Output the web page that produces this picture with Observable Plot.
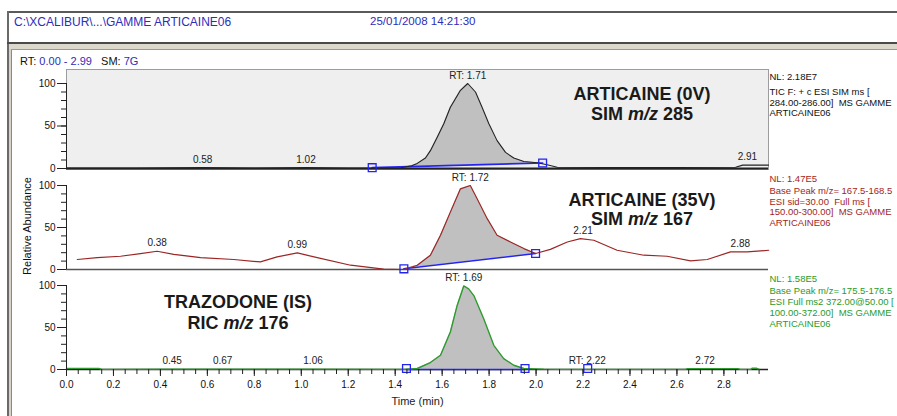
<!DOCTYPE html>
<html>
<head>
<meta charset="utf-8">
<script src="https://cdn.jsdelivr.net/npm/d3@7"></script>
<script src="https://cdn.jsdelivr.net/npm/@observablehq/plot@0.6"></script>
<style>
  html, body { margin: 0; padding: 0; background: #fff; width: 897px; height: 416px; overflow: hidden; }
  body { font-family: "Liberation Sans", Arial, sans-serif; color: #111; }
  #page { position: relative; width: 897px; height: 416px; overflow: hidden; }
  .abs { position: absolute; }
  .txt { position: absolute; line-height: 1; white-space: nowrap; }
  .blue { color: #2d2db8; }
  .big { position: absolute; line-height: 1; white-space: nowrap; font-size: 18px; font-weight: bold; color: #1a1a1a; transform: translateX(-50%); }
  .panel { position: absolute; left: 0; }
</style>
</head>
<body>
<div id="page">
  <!-- window chrome -->
  <div class="abs" style="left:7px;top:11px;right:0;height:2px;background:#5a5a5a"></div>
  <div class="abs" style="left:7px;top:11px;bottom:0;width:2px;background:#6a6a6a"></div>
  <div class="abs" style="left:9px;top:44px;bottom:0;width:2px;background:#d6d2c8"></div>
  <div class="abs" style="left:11px;top:44px;bottom:0;width:1px;background:#8a8a8a"></div>
  <div class="abs" style="left:7px;top:42px;right:0;height:2px;background:#4a4a4a"></div>
  <div class="abs" style="left:9px;top:44px;right:0;height:5px;background:#dcd8cc"></div>
  <div class="abs" style="left:11px;top:49px;right:0;height:1px;background:#9a9a9a"></div>

  <div class="txt blue" id="hdrFile" style="left:14px;top:16.1px;font-size:12px"></div>
  <div class="txt blue" id="hdrDate" style="left:370px;top:16.4px;font-size:11.5px"></div>
  <div class="txt" id="rtLine" style="left:20px;top:55.6px;font-size:11px"></div>

  <div class="txt" id="yLab" style="left:27px;top:226px;font-size:11px;transform:translate(-50%,-50%) rotate(-90deg)"></div>

  <div class="panel" id="p1" style="top:60px"></div>
  <div class="panel" id="p2" style="top:160px"></div>
  <div class="panel" id="p3" style="top:262px"></div>

  <div class="big" id="t1a" style="left:642px;top:84.5px"></div>
  <div class="big" id="t1b" style="left:642px;top:104.5px"></div>
  <div class="big" id="t2a" style="left:642px;top:191.2px"></div>
  <div class="big" id="t2b" style="left:642px;top:209.5px"></div>
  <div class="big" id="t3a" style="left:238px;top:292.9px"></div>
  <div class="big" id="t3b" style="left:238px;top:313.9px"></div>
</div>
<script>
// ---------------- texts ----------------
const headerFile = "C:\\XCALIBUR\\...\\GAMME ARTICAINE06";
const headerDate = "25/01/2008 14:21:30";
const rtRange = "0.00 - 2.99";
const smValue = "7G";
const xLabel = "Time (min)";
const yLabel = "Relative Abundance";

// ---------------- axes ----------------
const X_DOMAIN = [0, 2.99];
const xTicks = [0, 0.2, 0.4, 0.6, 0.8, 1.0, 1.2, 1.4, 1.6, 1.8, 2.0, 2.2, 2.4, 2.6, 2.8];
const xTickLabels = ["0.0","0.2","0.4","0.6","0.8","1.0","1.2","1.4","1.6","1.8","2.0","2.2","2.4","2.6","2.8"];
const yTicks = [0, 50, 100];
const yTickLabels = ["0", "50", "100"];

// ---------------- panel 1 : ARTICAINE (0V) SIM m/z 285 ----------------
const title285 = ["ARTICAINE (0V)", "SIM", "285"];
const nl285 = "NL: 2.18E7";
const desc285 = ["TIC F: + c ESI SIM ms [", "284.00-286.00]  MS GAMME", "ARTICAINE06"];
const sim285 = [[0,0.5],[0.3,0.6],[0.58,1.2],[0.8,0.6],[1.02,1.2],[1.2,0.6],[1.30,0.5],[1.42,0.5],
  [1.47,3.2],[1.494,6],[1.529,12.3],[1.55,21],[1.579,36.7],[1.607,52.6],[1.635,72],[1.678,92],
  [1.709,100],[1.742,90],[1.77,72],[1.799,52.6],[1.834,32.8],[1.87,19],[1.905,12.3],[1.948,8.3],
  [2.005,6.8],[2.047,4.4],[2.09,1.5],[2.3,1.2],[2.6,1.2],[2.85,1.5],[2.88,4],[2.99,4]];
const base285 = [[1.302,1.0],[2.028,6.5]];
const markers285 = [[1.302,1.0],[2.028,6.5]];
const peaks285 = [[0.58,1.2,"0.58"],[1.02,1.2,"1.02"],[1.709,100,"RT: 1.71"],[2.90,4,"2.91"]];

// ---------------- panel 2 : ARTICAINE (35V) SIM m/z 167 ----------------
const title167 = ["ARTICAINE (35V)", "SIM", "167"];
const nl167 = "NL: 1.47E5";
const desc167 = ["Base Peak m/z= 167.5-168.5", "ESI sid=30.00  Full ms [", "150.00-300.00]  MS GAMME", "ARTICAINE06"];
const sim167 = [[0.046,11.9],[0.131,14.2],[0.23,15.8],[0.315,19],[0.386,21.7],[0.457,18.1],[0.571,14.2],
  [0.713,11.9],[0.826,9.0],[0.897,15],[0.983,19.7],[1.068,14.2],[1.21,5.1],[1.351,0.4],[1.437,0],
  [1.494,5.1],[1.55,17],[1.593,40.7],[1.635,68.3],[1.678,96],[1.72,100],[1.749,84.2],[1.792,60.5],
  [1.834,40.7],[1.891,32.7],[1.948,24.9],[1.998,19],[2.061,24],[2.133,32.7],[2.189,36.8],[2.246,34.8],
  [2.345,22.9],[2.459,17],[2.558,15.8],[2.658,10.2],[2.729,11.9],[2.828,20.9],[2.899,20.9],[2.991,22.9]];
const base167 = [[1.437,0.8],[1.998,19]];
const markers167 = [[1.437,0.8],[1.998,19]];
const peaks167 = [[0.386,21.7,"0.38"],[0.983,19.7,"0.99"],[1.72,100,"RT: 1.72"],[2.2,36.8,"2.21"],[2.87,20.9,"2.88"]];

// ---------------- panel 3 : TRAZODONE (IS) RIC m/z 176 ----------------
const title176 = ["TRAZODONE (IS)", "RIC", "176"];
const nl176 = "NL: 1.58E5";
const desc176 = ["Base Peak m/z= 175.5-176.5", "ESI Full ms2 372.00@50.00 [", "100.00-372.00]  MS GAMME", "ARTICAINE06"];
const ric176 = [[0,1.3],[0.138,1.3],[0.15,0.2],[0.45,0.5],[0.67,0.5],[1.06,0.5],[1.437,0.2],[1.494,1.2],
  [1.55,8.3],[1.593,17],[1.635,44.6],[1.664,76.3],[1.692,99.5],[1.713,96],[1.735,88],[1.777,60.5],
  [1.82,28.8],[1.862,13],[1.905,5.1],[1.948,1.2],[2.033,0.4],[2.1,0.2],[2.636,0.2],[2.645,1.0],
  [2.86,1.0],[2.87,0.2],[2.915,0.2],[2.92,1.4],[2.94,1.4],[2.95,0.2]];
const base176 = [[1.448,0],[1.953,0]];
const markers176 = [[1.448,1.2],[1.953,1.2],[2.22,1.2]];
const peaks176 = [[0.45,0.5,"0.45"],[0.665,0.5,"0.67"],[1.05,0.5,"1.06"],[1.692,99.5,"RT: 1.69"],[2.218,0.5,"RT: 2.22"],[2.72,1,"2.72"]];

// ---------------- drawing ----------------
const FONT = '"Liberation Sans", Arial, sans-serif';
const BLUE = "#2424f0";
const FILL = "#c0c0c0";
const xMinor = d3.range(0, 60).map(i => +(i * 0.05).toFixed(2)).filter(v => v <= 2.96);
const yMinor = d3.range(0, 101, 10);

function chromPanel(o) {
  const pts = o.series.map(([t, v]) => ({t, v}));
  const [b0, b1] = o.baseline.map(([t, v]) => ({t, v}));
  const base = t => b0.v + (t - b0.t) * (b1.v - b0.v) / (b1.t - b0.t);
  const fillPts = [{t: b0.t, lo: b0.v, hi: b0.v},
    ...pts.filter(d => d.t > b0.t && d.t < b1.t).map(d => ({t: d.t, lo: base(d.t), hi: Math.max(d.v, base(d.t))})),
    {t: b1.t, lo: b1.v, hi: b1.v}];
  const marks = [];
  if (o.boxed) marks.push(Plot.frame({fill: "#efefef", stroke: "#9c9c9c", insetTop: -14, insetBottom: -1}));
  marks.push(Plot.ruleY([0], {stroke: o.baseColor, strokeWidth: o.baseWidth}));
  marks.push(Plot.areaY(fillPts, {x: "t", y1: "lo", y2: "hi", fill: FILL}));
  marks.push(Plot.line(o.baseline, {x: d => d[0], y: d => d[1], stroke: BLUE, strokeWidth: 1.6}));
  marks.push(Plot.line(pts, {x: "t", y: "v", stroke: o.color, strokeWidth: o.lineWidth}));
  marks.push(Plot.dot(o.markers, {x: d => d[0], y: d => d[1], symbol: "square", r: 4.4, stroke: BLUE, strokeWidth: 1.3, fill: "none"}));
  marks.push(Plot.text(o.peaks, {x: d => d[0], y: d => d[1], text: d => d[2], dy: -8, fontSize: 10, fill: "#222"}));
  marks.push(Plot.ruleX([0], {y1: yTicks[0], y2: yTicks[yTicks.length - 1], stroke: "#222"}));
  marks.push(Plot.axisY(yMinor, {tickSize: 5, tickFormat: () => "", label: null, stroke: "#222"}));
  marks.push(Plot.axisY(yTicks, {tickSize: 9, tickPadding: 2, tickFormat: d => yTickLabels[yTicks.indexOf(d)], label: null, fontSize: 10, stroke: "#222"}));
  marks.push(Plot.text([o.nl], {text: d => d, frameAnchor: "top-right", textAnchor: "start", dx: 1, dy: o.nlDy, fontSize: 9.5, fill: o.textColor}));
  marks.push(Plot.text([o.desc.join("\n")], {text: d => d, frameAnchor: "top-right", textAnchor: "start", lineAnchor: "top", lineHeight: 1.14, dx: 1, dy: o.descDy, fontSize: 9.5, fill: o.textColor}));
  if (o.xAxis) {
    marks.push(Plot.axisX(xMinor, {tickSize: 5, tickFormat: () => "", label: null, stroke: "#222"}));
    marks.push(Plot.axisX(xTicks, {tickSize: 7, tickPadding: 4, tickFormat: d => xTickLabels[xTicks.indexOf(d)], label: null, fontSize: 10, stroke: "#222"}));
    marks.push(Plot.text([xLabel], {text: d => d, frameAnchor: "bottom", dy: 35, fontSize: 11, fill: "#222"}));
  }
  return Plot.plot({
    width: 897, height: o.height,
    marginLeft: 66, marginRight: 129, marginTop: o.mt, marginBottom: o.mb,
    x: {domain: X_DOMAIN, axis: o.xAxis ? undefined : null},
    y: {domain: [0, 100]},
    style: {background: "transparent", fontFamily: FONT, fontSize: "10px", color: "#111"},
    marks
  });
}

// panel 1: svg top 60 -> y=100 at 83, y=0 at 168
document.getElementById("p1").appendChild(chromPanel({
  series: sim285, baseline: base285, markers: markers285, peaks: peaks285,
  nl: nl285, desc: desc285, color: "#222", textColor: "#111", lineWidth: 1.1,
  baseColor: "#222", baseWidth: 2, boxed: true,
  height: 120, mt: 23, mb: 12, nlDy: -10, descDy: 3.5
}));
// panel 2: svg top 160 -> y=100 at 185, y=0 at 269
document.getElementById("p2").appendChild(chromPanel({
  series: sim167, baseline: base167, markers: markers167, peaks: peaks167,
  nl: nl167, desc: desc167, color: "#9c2626", textColor: "#a11e1e", lineWidth: 1.2,
  baseColor: "#555", baseWidth: 1.5, boxed: false,
  height: 120, mt: 25, mb: 11, nlDy: -10, descDy: 0.5
}));
// panel 3: svg top 262 -> y=100 at 285, y=0 at 369
document.getElementById("p3").appendChild(chromPanel({
  series: ric176, baseline: base176, markers: markers176, peaks: peaks176,
  nl: nl176, desc: desc176, color: "#2f9a2f", textColor: "#2a9a2a", lineWidth: 1.4,
  baseColor: "#222", baseWidth: 1.5, boxed: false, xAxis: true,
  height: 154, mt: 23, mb: 47, nlDy: -10, descDy: 1.2
}));

// HTML annotations
document.getElementById("hdrFile").textContent = headerFile;
document.getElementById("hdrDate").textContent = headerDate;
document.getElementById("rtLine").innerHTML = 'RT: <span class="blue">' + rtRange + '</span>&nbsp;&nbsp; SM: <span class="blue">' + smValue + '</span>';
document.getElementById("yLab").textContent = yLabel;
function setTitle(idA, idB, t) {
  document.getElementById(idA).textContent = t[0];
  document.getElementById(idB).innerHTML = t[1] + " <i>m/z</i> " + t[2];
}
setTitle("t1a", "t1b", title285);
setTitle("t2a", "t2b", title167);
setTitle("t3a", "t3b", title176);
</script>
</body>
</html>
